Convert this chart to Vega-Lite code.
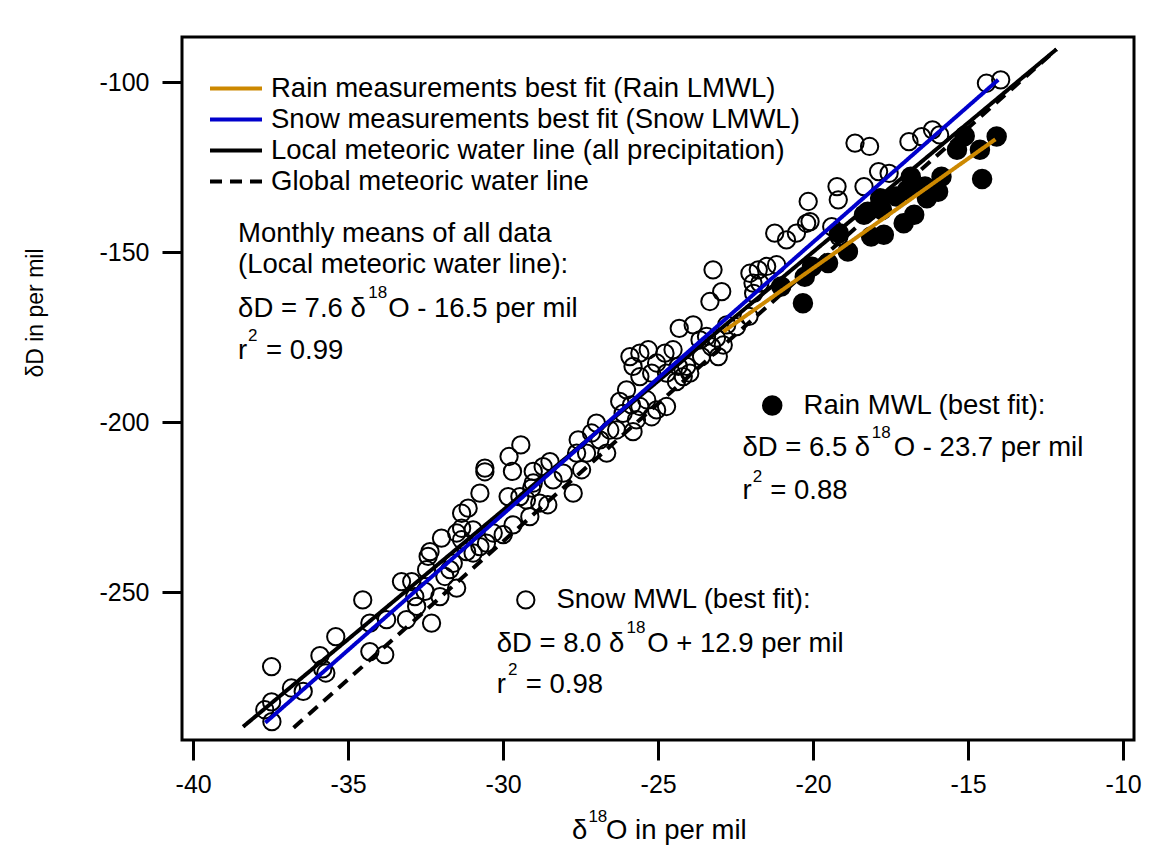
{
  "$schema": "https://vega.github.io/schema/vega-lite/v6.json",
  "width": 952,
  "height": 703,
  "autosize": "none",
  "padding": {"left": 182, "top": 37, "right": 34, "bottom": 112},
  "background": "white",
  "config": {
    "font": "Liberation Sans",
    "view": {"stroke": "black", "strokeWidth": 3},
    "axis": {"labelFont": "Liberation Sans", "titleFont": "Liberation Sans", "labelColor": "black", "titleColor": "black", "tickColor": "black", "domain": false, "grid": false, "tickWidth": 3, "tickSize": 20, "labelFontSize": 25, "titleFontWeight": "normal", "labelExpr": "replace(datum.label, '−', '-')"}
  },
  "datasets": {
    "snow": [
      {"d18O":-37.47,"dD":-271.9},{"d18O":-37.46,"dD":-288.1},{"d18O":-37.69,"dD":-284.6},{"d18O":-37.47,"dD":-282.3},
      {"d18O":-36.83,"dD":-278.2},{"d18O":-36.45,"dD":-279.2},{"d18O":-35.91,"dD":-268.7},{"d18O":-35.72,"dD":-273.8},
      {"d18O":-35.82,"dD":-272.6},{"d18O":-35.40,"dD":-263.1},{"d18O":-34.53,"dD":-252.3},{"d18O":-34.30,"dD":-259.1},
      {"d18O":-34.30,"dD":-267.5},{"d18O":-33.76,"dD":-258.1},{"d18O":-33.82,"dD":-268.4},{"d18O":-33.12,"dD":-258.1},
      {"d18O":-32.31,"dD":-259.1},{"d18O":-32.79,"dD":-254.2},{"d18O":-32.85,"dD":-251.3},{"d18O":-32.04,"dD":-251.3},
      {"d18O":-31.50,"dD":-248.8},{"d18O":-32.52,"dD":-249.8},{"d18O":-33.28,"dD":-246.9},{"d18O":-32.95,"dD":-246.9},
      {"d18O":-32.47,"dD":-243.4},{"d18O":-32.42,"dD":-239.5},{"d18O":-32.36,"dD":-238.1},{"d18O":-31.99,"dD":-234.1},
      {"d18O":-31.72,"dD":-243.4},{"d18O":-31.34,"dD":-226.8},{"d18O":-31.13,"dD":-225.3},{"d18O":-30.75,"dD":-220.9},
      {"d18O":-30.59,"dD":-213.5},{"d18O":-30.59,"dD":-214.6},{"d18O":-29.81,"dD":-210.1},{"d18O":-29.43,"dD":-206.7},
      {"d18O":-29.70,"dD":-214.5},{"d18O":-29.84,"dD":-221.9},{"d18O":-29.03,"dD":-214.5},{"d18O":-29.08,"dD":-219.4},
      {"d18O":-29.46,"dD":-221.9},{"d18O":-29.14,"dD":-227.8},{"d18O":-29.68,"dD":-230.2},{"d18O":-30.00,"dD":-233.1},
      {"d18O":-30.32,"dD":-232.6},{"d18O":-30.54,"dD":-235.6},{"d18O":-30.75,"dD":-236.6},{"d18O":-30.97,"dD":-238.5},
      {"d18O":-31.18,"dD":-238.1},{"d18O":-31.34,"dD":-234.6},{"d18O":-31.50,"dD":-232.6},{"d18O":-31.61,"dD":-241.5},
      {"d18O":-31.88,"dD":-245.4},{"d18O":-31.34,"dD":-231.2},{"d18O":-30.97,"dD":-231.7},{"d18O":-29.25,"dD":-222.9},
      {"d18O":-29.03,"dD":-217.9},{"d18O":-28.71,"dD":-213.1},{"d18O":-28.49,"dD":-211.6},{"d18O":-28.82,"dD":-223.8},
      {"d18O":-28.39,"dD":-217.0},{"d18O":-28.06,"dD":-215.0},{"d18O":-27.74,"dD":-220.9},{"d18O":-27.47,"dD":-214.0},
      {"d18O":-27.63,"dD":-209.1},{"d18O":-27.58,"dD":-205.2},{"d18O":-27.15,"dD":-203.2},{"d18O":-26.99,"dD":-200.3},
      {"d18O":-26.88,"dD":-205.2},{"d18O":-27.31,"dD":-209.1},{"d18O":-26.66,"dD":-209.1},{"d18O":-26.34,"dD":-202.3},
      {"d18O":-26.56,"dD":-202.3},{"d18O":-26.13,"dD":-197.4},{"d18O":-26.24,"dD":-193.9},{"d18O":-26.02,"dD":-190.5},
      {"d18O":-25.86,"dD":-194.9},{"d18O":-25.70,"dD":-199.3},{"d18O":-25.59,"dD":-195.4},{"d18O":-25.37,"dD":-193.4},
      {"d18O":-25.21,"dD":-198.4},{"d18O":-25.05,"dD":-196.4},{"d18O":-24.73,"dD":-195.4},{"d18O":-25.81,"dD":-202.8},
      {"d18O":-25.91,"dD":-180.7},{"d18O":-25.59,"dD":-179.7},{"d18O":-25.32,"dD":-178.7},{"d18O":-25.81,"dD":-183.6},
      {"d18O":-25.59,"dD":-186.6},{"d18O":-25.21,"dD":-185.6},{"d18O":-25.05,"dD":-182.6},{"d18O":-24.78,"dD":-179.7},
      {"d18O":-24.52,"dD":-178.7},{"d18O":-24.73,"dD":-185.6},{"d18O":-24.41,"dD":-188.1},{"d18O":-24.19,"dD":-186.6},
      {"d18O":-23.98,"dD":-185.6},{"d18O":-24.35,"dD":-183.6},{"d18O":-24.08,"dD":-183.6},{"d18O":-24.32,"dD":-172.4},
      {"d18O":-23.87,"dD":-171.4},{"d18O":-23.65,"dD":-175.8},{"d18O":-23.44,"dD":-174.8},{"d18O":-23.60,"dD":-180.7},
      {"d18O":-23.28,"dD":-177.8},{"d18O":-23.06,"dD":-180.7},{"d18O":-23.12,"dD":-175.3},{"d18O":-22.90,"dD":-177.3},
      {"d18O":-22.79,"dD":-171.4},{"d18O":-22.47,"dD":-171.9},{"d18O":-23.33,"dD":-164.5},{"d18O":-22.95,"dD":-161.6},
      {"d18O":-23.23,"dD":-155.2},{"d18O":-22.04,"dD":-156.2},{"d18O":-21.77,"dD":-155.2},{"d18O":-21.50,"dD":-154.2},
      {"d18O":-21.94,"dD":-159.1},{"d18O":-21.72,"dD":-159.1},{"d18O":-21.24,"dD":-144.4},{"d18O":-20.86,"dD":-146.4},
      {"d18O":-20.54,"dD":-144.4},{"d18O":-20.21,"dD":-141.5},{"d18O":-21.18,"dD":-153.7},{"d18O":-22.07,"dD":-168.9},
      {"d18O":-21.92,"dD":-162.1},{"d18O":-28.56,"dD":-224.3},{"d18O":-14.41,"dD":-100.3},{"d18O":-13.95,"dD":-99.3},
      {"d18O":-18.65,"dD":-117.9},{"d18O":-18.18,"dD":-118.9},{"d18O":-16.91,"dD":-117.5},{"d18O":-16.50,"dD":-116.0},
      {"d18O":-16.15,"dD":-114.0},{"d18O":-15.92,"dD":-115.5},{"d18O":-17.89,"dD":-126.3},{"d18O":-17.55,"dD":-126.8},
      {"d18O":-18.36,"dD":-130.7},{"d18O":-19.23,"dD":-130.7},{"d18O":-19.19,"dD":-134.6},{"d18O":-20.16,"dD":-135.1},
      {"d18O":-20.10,"dD":-141.0},{"d18O":-19.40,"dD":-142.5},{"d18O":-19.17,"dD":-145.4}
    ],
    "rain": [
      {"d18O":-15.11,"dD":-115.8},{"d18O":-15.36,"dD":-119.9},{"d18O":-14.62,"dD":-119.9},{"d18O":-14.08,"dD":-116.0},
      {"d18O":-14.55,"dD":-128.5},{"d18O":-15.86,"dD":-127.8},{"d18O":-15.97,"dD":-132.2},{"d18O":-16.39,"dD":-130.7},
      {"d18O":-16.85,"dD":-127.8},{"d18O":-16.97,"dD":-131.7},{"d18O":-16.33,"dD":-134.1},{"d18O":-17.32,"dD":-133.6},
      {"d18O":-17.84,"dD":-134.1},{"d18O":-17.78,"dD":-137.6},{"d18O":-18.24,"dD":-138.1},{"d18O":-16.74,"dD":-139.0},
      {"d18O":-17.08,"dD":-141.5},{"d18O":-17.72,"dD":-144.9},{"d18O":-18.13,"dD":-145.4},{"d18O":-18.36,"dD":-139.0},
      {"d18O":-18.88,"dD":-149.8},{"d18O":-19.17,"dD":-144.4},{"d18O":-19.52,"dD":-153.2},{"d18O":-20.27,"dD":-157.2},
      {"d18O":-20.33,"dD":-165.0},{"d18O":-21.03,"dD":-160.1},{"d18O":-20.04,"dD":-154.3}
    ],
    "lines": [
      {"series":"Global meteoric water line","d18O":-36.76,"dD":-289.9},
      {"series":"Global meteoric water line","d18O":-12.15,"dD":-90.3},
      {"series":"Local meteoric water line (all precipitation)","d18O":-38.39,"dD":-289.6},
      {"series":"Local meteoric water line (all precipitation)","d18O":-12.15,"dD":-90.3},
      {"series":"Snow measurements best fit (Snow LMWL)","d18O":-37.67,"dD":-288.4},
      {"series":"Snow measurements best fit (Snow LMWL)","d18O":-14.03,"dD":-99.3},
      {"series":"Rain measurements best fit (Rain LMWL)","d18O":-22.9,"dD":-173.4},
      {"series":"Rain measurements best fit (Rain LMWL)","d18O":-14.12,"dD":-116.8}
    ],
    "labels": [
      {"t":"Monthly means of all data","d18O":-38.55,"dD":-146.9},
      {"t":"(Local meteoric water line):","d18O":-38.55,"dD":-156.0},
      {"t":"δD = 7.6 δ","d18O":-38.55,"dD":-169.1},
      {"t":"O - 16.5 per mil","d18O":-33.71,"dD":-169.1},
      {"t":"r","d18O":-38.55,"dD":-181.4},
      {"t":"= 0.99","d18O":-37.65,"dD":-181.4},
      {"t":"Rain MWL (best fit):","d18O":-20.31,"dD":-197.6},
      {"t":"δD = 6.5 δ","d18O":-22.28,"dD":-210.1},
      {"t":"O - 23.7 per mil","d18O":-17.40,"dD":-210.1},
      {"t":"r","d18O":-22.28,"dD":-222.6},
      {"t":"= 0.88","d18O":-21.38,"dD":-222.6},
      {"t":"Snow MWL (best fit):","d18O":-28.28,"dD":-254.7},
      {"t":"δD = 8.0 δ","d18O":-30.21,"dD":-267.5},
      {"t":"O + 12.9 per mil","d18O":-25.35,"dD":-267.5},
      {"t":"r","d18O":-30.21,"dD":-279.7},
      {"t":"= 0.98","d18O":-29.27,"dD":-279.7},
      {"t":"δ","d18O":-27.78,"dD":-322.6},
      {"t":"O in per mil","d18O":-26.68,"dD":-322.6}
    ],
    "sups": [
      {"t":"18","d18O":-34.35,"dD":-163.5},
      {"t":"2","d18O":-38.23,"dD":-176.1},
      {"t":"18","d18O":-18.11,"dD":-204.7},
      {"t":"2","d18O":-21.95,"dD":-217.5},
      {"t":"18","d18O":-26.02,"dD":-262.0},
      {"t":"2","d18O":-29.84,"dD":-274.3},
      {"t":"18","d18O":-27.25,"dD":-317.6}
    ],
    "ytitle": [
      {"t":"δD in per mil","d18O":-45.07,"dD":-167.9}
    ]
  },
  "encoding": {
    "x": {"field": "d18O", "type": "quantitative", "scale": {"domain": [-40.36, -9.65], "nice": false, "zero": false},
          "axis": {"title": null, "values": [-40, -35, -30, -25, -20, -15, -10], "labelPadding": 12}},
    "y": {"field": "dD", "type": "quantitative", "scale": {"domain": [-293.5, -86.7], "nice": false, "zero": false},
          "axis": {"title": null, "values": [-100, -150, -200, -250], "labelPadding": 13}}
  },
  "layer": [
    {"data": {"name": "snow"}, "mark": {"type": "point", "shape": "circle", "filled": false, "stroke": "black", "strokeWidth": 2, "size": 300, "opacity": 1}},
    {"data": {"name": "rain"}, "mark": {"type": "point", "shape": "circle", "filled": true, "fill": "black", "size": 420, "opacity": 1}},
    {"data": {"name": "lines"}, "mark": {"type": "line", "strokeWidth": 4},
     "encoding": {
       "color": {"field": "series", "type": "nominal",
         "scale": {"domain": ["Rain measurements best fit (Rain LMWL)", "Snow measurements best fit (Snow LMWL)", "Local meteoric water line (all precipitation)", "Global meteoric water line"],
                   "range": ["#CC8800", "#0000CC", "#000000", "#000000"]},
         "legend": {"title": null, "orient": "none", "legendX": 26, "legendY": 36, "symbolType": "stroke", "symbolSize": 2704, "symbolStrokeWidth": 4, "clipHeight": 31, "rowPadding": 0, "labelOffset": 7, "labelFontSize": 27.5, "labelFont": "Liberation Sans", "labelColor": "black", "labelLimit": 800, "padding": 0, "symbolOffset": 0}},
       "strokeDash": {"field": "series", "type": "nominal",
         "scale": {"domain": ["Rain measurements best fit (Rain LMWL)", "Snow measurements best fit (Snow LMWL)", "Local meteoric water line (all precipitation)", "Global meteoric water line"],
                   "range": [[1, 0], [1, 0], [1, 0], [12, 8]]},
         "legend": {"title": null, "orient": "none", "legendX": 26, "legendY": 36, "symbolType": "stroke", "symbolSize": 2704, "symbolStrokeWidth": 4, "clipHeight": 31, "rowPadding": 0, "labelOffset": 7, "labelFontSize": 27.5, "labelFont": "Liberation Sans", "labelColor": "black", "labelLimit": 800, "padding": 0, "symbolOffset": 0}}
     }},
    {"data": {"values": [{"d18O": -29.27, "dD": -252.3}]}, "mark": {"type": "point", "shape": "circle", "filled": false, "stroke": "black", "strokeWidth": 2, "size": 300, "opacity": 1}},
    {"data": {"values": [{"d18O": -21.32, "dD": -195.1}]}, "mark": {"type": "point", "shape": "circle", "filled": true, "fill": "black", "size": 420, "opacity": 1}},
    {"data": {"name": "labels"}, "mark": {"type": "text", "align": "left", "baseline": "alphabetic", "fontSize": 27.5, "font": "Liberation Sans", "color": "black"},
     "encoding": {"text": {"field": "t"}}},
    {"data": {"name": "sups"}, "mark": {"type": "text", "align": "left", "baseline": "alphabetic", "fontSize": 17, "font": "Liberation Sans", "color": "black"},
     "encoding": {"text": {"field": "t"}}},
    {"data": {"name": "ytitle"}, "mark": {"type": "text", "align": "center", "baseline": "middle", "angle": 270, "fontSize": 23, "font": "Liberation Sans", "color": "black"},
     "encoding": {"text": {"field": "t"}}}
  ]
}
